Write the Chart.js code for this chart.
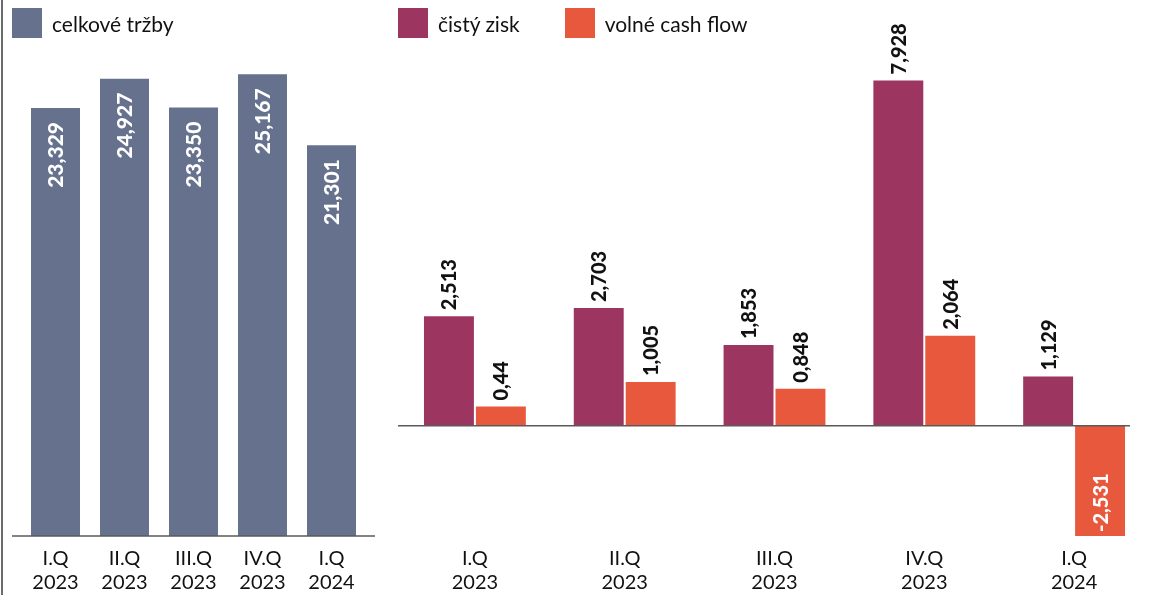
<!DOCTYPE html>
<html>
<head>
<meta charset="utf-8">
<script src="https://cdn.jsdelivr.net/npm/chart.js@4"></script>
<style>
  body { margin: 0; background: #fff; font-family: Lato, sans-serif; }
  #wrap { position: relative; width: 1157px; height: 595px; overflow: hidden; }
  #leftBox { position: absolute; left: 0; top: 0; width: 380px; height: 595px; }
  #rightBox { position: absolute; left: 380px; top: 0; width: 777px; height: 595px; }
  #vline { position: absolute; left: 1px; top: 0; width: 1.5px; height: 595px; background: #6b6b6b; }
  .legend { position: absolute; top: 8px; display: flex; align-items: center; font-size: 21px; color: #111; }
  .legend span.box { display: inline-block; width: 30px; height: 30px; margin-right: 10px; }
  .legend .item { display: flex; align-items: center; }
</style>
</head>
<body>
<div id="wrap">
  <div id="vline"></div>
  <div id="leftBox"><canvas id="graf1"></canvas></div>
  <div id="rightBox"><canvas id="graf2"></canvas></div>
  <div class="legend" id="leg1" style="left:12px"></div>
  <div class="legend" id="leg2" style="left:398px"></div>
</div>
<script>
// štítky čtvrtletí (dva řádky)
var ctvrtleti = [["I.Q", "2023"], ["II.Q", "2023"], ["III.Q", "2023"], ["IV.Q", "2023"], ["I.Q", "2024"]];

// celkové tržby (mil.)
var trzby = [23329, 24927, 23350, 25167, 21301];
// čistý zisk a volné cash flow
var cistyZisk = [2.513, 2.703, 1.853, 7.928, 1.129];
var volneCF = [0.44, 1.005, 0.848, 2.064, -2.531];

var barvaTrzby = '#66718d';
var barvaZisk = '#9c3560';
var barvaCF = '#e8583d';

// legenda jako html
function legenda(id, polozky) {
    var el = document.getElementById(id);
    polozky.forEach(function (p, i) {
        var d = document.createElement('div');
        d.className = 'item';
        if (i > 0) d.style.marginLeft = '45px';
        d.innerHTML = '<span class="box" style="background:' + p.color + '"></span>' + p.label;
        el.appendChild(d);
    });
}

// vodorovná čára na nule
var nulovaCara = {
    id: 'nulovaCara',
    afterDatasetsDraw: function (chart, args, opts) {
        var ctx = chart.ctx;
        var y = chart.scales.y.getPixelForValue(0);
        ctx.save();
        ctx.strokeStyle = '#5a5a5a';
        ctx.lineWidth = 1.5;
        ctx.beginPath();
        ctx.moveTo(opts.from, y);
        ctx.lineTo(opts.to, y);
        ctx.stroke();
        ctx.restore();
    }
};

// popisky hodnot otočené o 90°
var popisky = {
    id: 'popisky',
    afterDatasetsDraw: function (chart, args, opts) {
        var ctx = chart.ctx;
        chart.data.datasets.forEach(function (ds, i) {
            var meta = chart.getDatasetMeta(i);
            meta.data.forEach(function (bar, j) {
                var v = ds.data[j];
                var text = opts.format(v);
                ctx.save();
                ctx.font = '900 ' + opts.size + 'px Lato';
                ctx.textBaseline = 'middle';
                var y, align, color;
                if (opts.inside) {
                    y = bar.y + 14; align = 'right'; color = '#fff';
                } else if (v < 0) {
                    y = bar.y - 4; align = 'left'; color = '#fff';
                } else {
                    y = bar.y - 6; align = 'left'; color = '#111';
                }
                ctx.translate(bar.x + 1, y);
                ctx.rotate(-Math.PI / 2);
                ctx.textAlign = align;
                ctx.fillStyle = color;
                ctx.fillText(text, 0, 0);
                ctx.restore();
            });
        });
    }
};

function osaX() {
    return {
        grid: { display: false, drawTicks: false },
        border: { display: false },
        ticks: { color: '#111', padding: 11, font: { family: 'Lato', size: 20, lineHeight: 1.2 }, maxRotation: 0, autoSkip: false },
        afterFit: function (scale) { scale.height = 59; }
    };
}

function createLeftChart() {
    var ctx = document.getElementById('graf1');
    new Chart(ctx, {
        type: 'bar',
        data: {
            labels: ctvrtleti,
            datasets: [{
                label: 'celkové tržby',
                data: trzby,
                backgroundColor: barvaTrzby,
                barPercentage: 0.71,
                categoryPercentage: 1
            }]
        },
        options: {
            responsive: true,
            maintainAspectRatio: false,
            animation: false,
            layout: { padding: { top: 59, left: 21, right: 14, bottom: 0 } },
            plugins: {
                legend: { display: false },
                tooltip: { enabled: false },
                nulovaCara: { from: 12, to: 375 },
                popisky: { inside: true, size: 21, format: function (v) { return v.toLocaleString('en-US'); } }
            },
            scales: {
                x: osaX(),
                y: { display: false, min: 0, max: 26000 }
            }
        },
        plugins: [nulovaCara, popisky]
    });
}

function createRightChart() {
    var ctx = document.getElementById('graf2');
    new Chart(ctx, {
        type: 'bar',
        data: {
            labels: ctvrtleti,
            datasets: [{
                label: 'čistý zisk',
                data: cistyZisk,
                backgroundColor: barvaZisk,
                barPercentage: 0.9615,
                categoryPercentage: 0.6933
            }, {
                label: 'volné cash flow',
                data: volneCF,
                backgroundColor: barvaCF,
                barPercentage: 0.9615,
                categoryPercentage: 0.6933
            }]
        },
        options: {
            responsive: true,
            maintainAspectRatio: false,
            animation: false,
            layout: { padding: { top: 59, left: 20, right: 8, bottom: 0 } },
            plugins: {
                legend: { display: false },
                tooltip: { enabled: false },
                nulovaCara: { from: 18, to: 750 },
                popisky: { inside: false, size: 20, format: function (v) { return String(v).replace('.', ','); } }
            },
            scales: {
                x: osaX(),
                y: { display: false, min: -2.531, max: 8.42 }
            }
        },
        plugins: [nulovaCara, popisky]
    });
}

document.addEventListener('DOMContentLoaded', function () {
    legenda('leg1', [{ label: 'celkové tržby', color: barvaTrzby }]);
    legenda('leg2', [{ label: 'čistý zisk', color: barvaZisk }, { label: 'volné cash flow', color: barvaCF }]);
    createLeftChart();
    createRightChart();
});
</script>
</body>
</html>
